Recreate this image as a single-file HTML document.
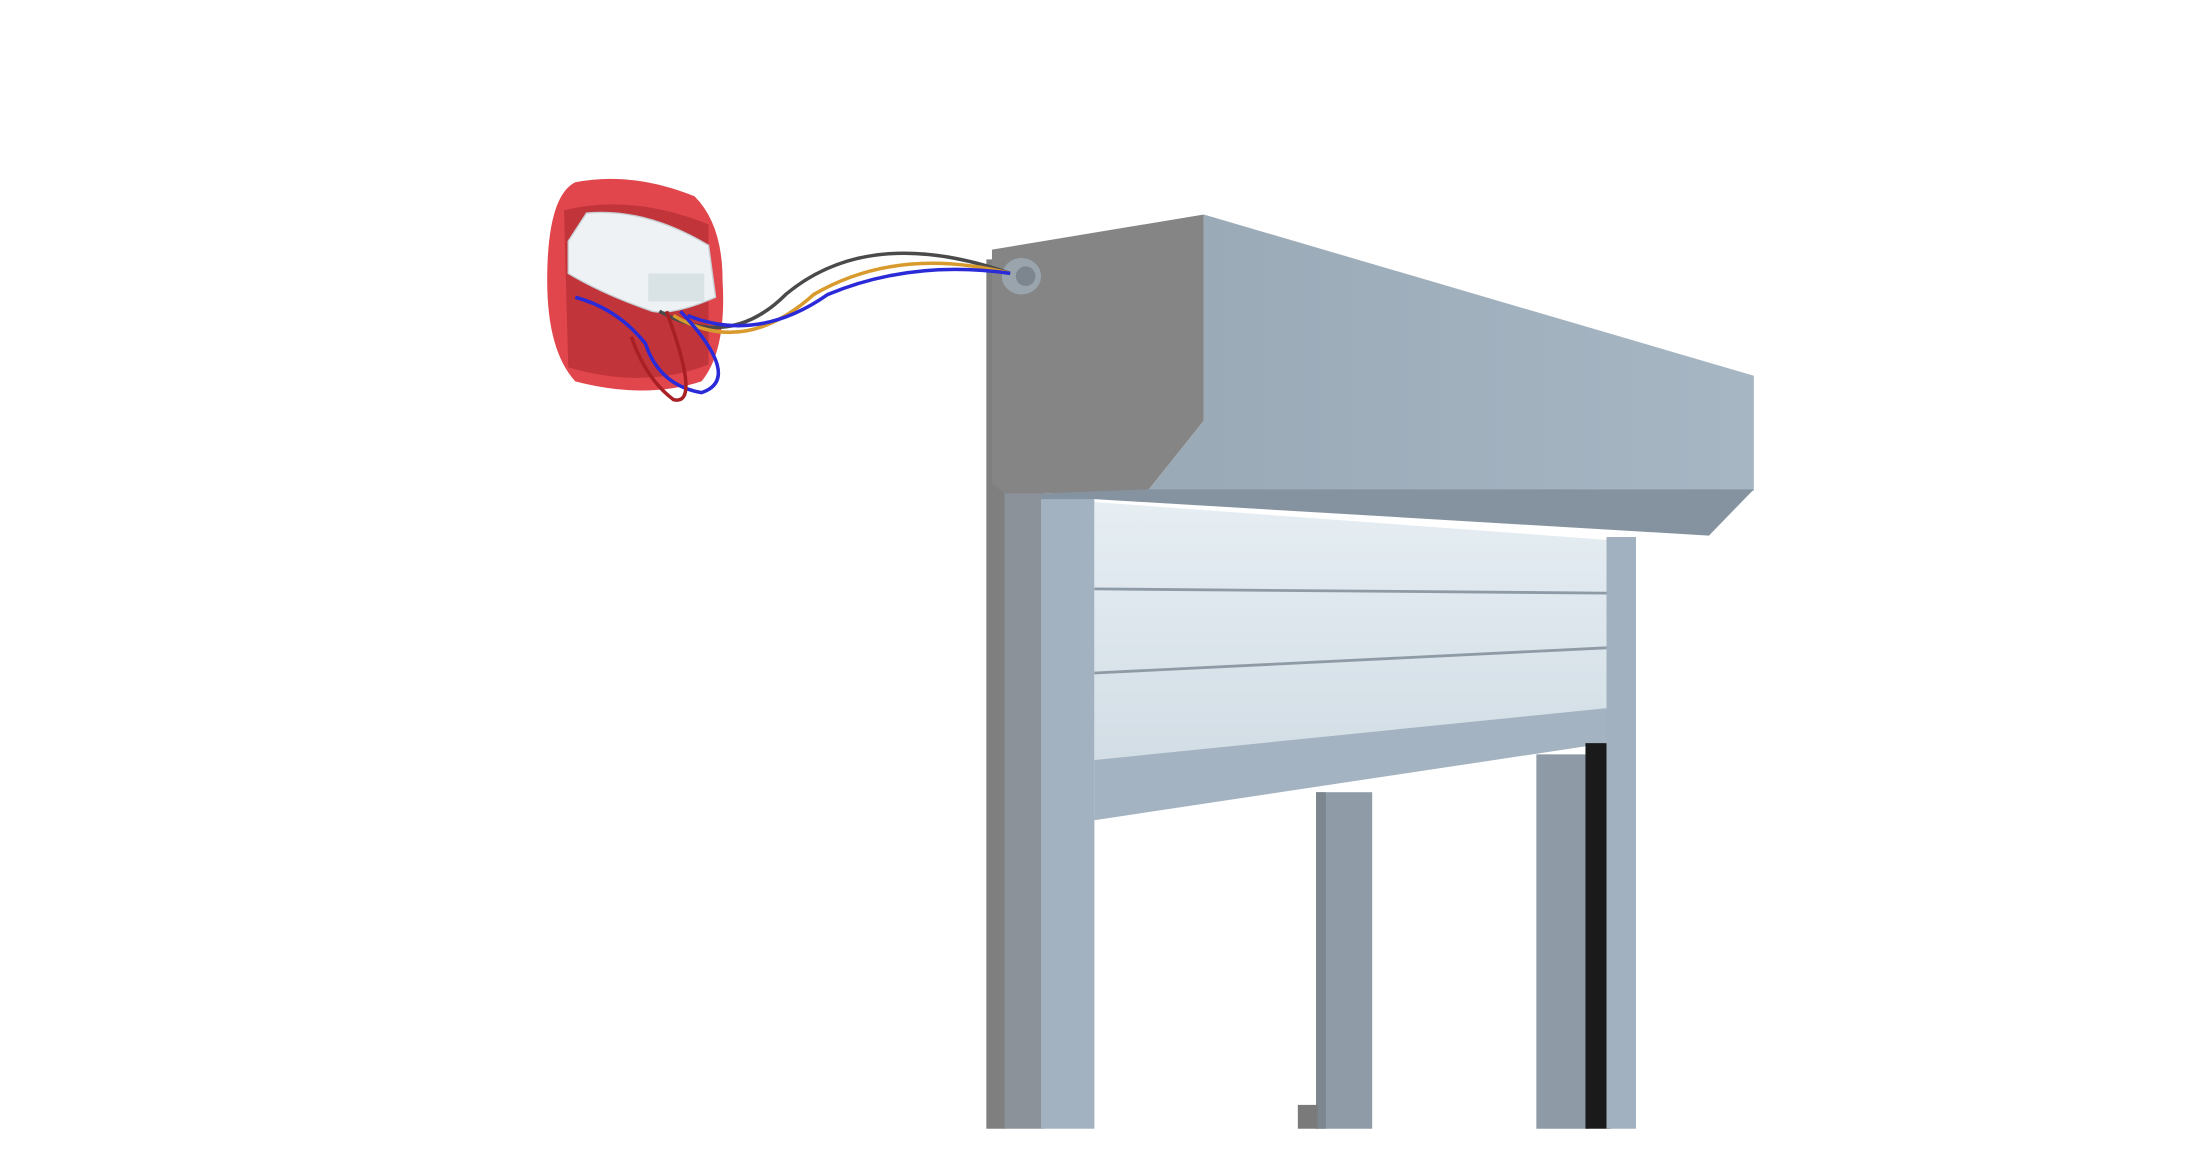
<!DOCTYPE html>
<html><head><meta charset="utf-8"><style>html,body{margin:0;padding:0;background:#fff;width:2200px;height:1175px;overflow:hidden}</style></head>
<body>
<svg width="2200" height="1175" viewBox="0 0 1568 838" preserveAspectRatio="none" xmlns="http://www.w3.org/2000/svg">
<defs>
<linearGradient id="slat" x1="0" y1="0" x2="0" y2="1"><stop offset="0" stop-color="#e6eef3"/><stop offset="1" stop-color="#d2dde5"/></linearGradient>
<linearGradient id="topf" x1="0" y1="0" x2="1" y2="0"><stop offset="0" stop-color="#9aa9b6"/><stop offset="1" stop-color="#a6b6c3"/></linearGradient>
</defs>
<rect width="1568" height="838" fill="#fff"/>
<!-- left post -->
<rect x="703" y="185" width="14" height="620" fill="#7f7f80"/>
<rect x="716" y="350" width="28" height="455" fill="#8c9299"/>
<rect x="742" y="352" width="38" height="453" fill="#a2b2c0"/>
<!-- shutter slats -->
<polygon points="780,358 1145,385 1145,505 780,542" fill="url(#slat)"/>
<line x1="780" y1="420" x2="1145" y2="423" stroke="#8e9ba6" stroke-width="2"/>
<line x1="780" y1="480" x2="1145" y2="462" stroke="#8e9ba6" stroke-width="2"/>
<!-- bottom rail -->
<polygon points="780,542 1145,505 1145,530 780,585" fill="#a3b3c1"/>
<!-- right posts -->
<rect x="1095" y="538" width="38" height="267" fill="#8e9aa5"/>
<rect x="1130" y="530" width="18" height="275" fill="#1a1a1a"/>
<rect x="1145" y="383" width="21" height="422" fill="#a1b1bf"/>
<!-- middle mullion -->
<rect x="938" y="565" width="40" height="240" fill="#8f9ca7"/>
<rect x="938" y="565" width="7" height="240" fill="#7d868e"/>
<rect x="925" y="788" width="14" height="17" fill="#7a7a7a"/>
<!-- box end face -->
<polygon points="707,178 858,153 858,300 818,350 742,352 716,352 707,345" fill="#858585"/>
<!-- box top/front face -->
<polygon points="858,153 1250,268 1250,350 818,350 858,300" fill="url(#topf)"/>
<polygon points="742,352 818,349 1250,349 1218,382 780,356 742,356" fill="#8593a0"/>
<!-- grommet -->
<ellipse cx="728" cy="197" rx="14" ry="13" fill="#9aa4ad"/>
<ellipse cx="731" cy="197" rx="7" ry="7" fill="#7d868e"/>
<!-- red box -->
<path d="M410,130 Q450,122 495,140 Q515,160 515,200 Q518,250 500,272 Q460,285 410,272 Q390,250 390,200 Q390,140 410,130Z" fill="#e2464d"/>
<path d="M402,150 Q450,138 505,160 L505,260 Q460,278 405,262Z" fill="#c1343a"/>
<!-- module -->
<path d="M418,152 Q460,148 505,175 L510,212 Q480,225 465,222 Q430,210 405,195 L405,172Z" fill="#eef2f4" stroke="#c9d0d5"/>
<rect x="462" y="195" width="40" height="20" fill="#d9e3e6"/>
<!-- wires -->
<path d="M470,222 Q520,250 560,210 Q620,160 720,195" fill="none" stroke="#4a4a4a" stroke-width="2.5"/>
<path d="M480,225 Q530,255 580,210 Q640,175 720,195" fill="none" stroke="#d89a2c" stroke-width="2.5"/>
<path d="M490,225 Q540,245 590,210 Q650,185 720,195" fill="none" stroke="#2a2ad8" stroke-width="2.5"/>
<path d="M485,222 Q530,270 500,280 Q470,275 460,245 Q440,220 410,212" fill="none" stroke="#2a2ad8" stroke-width="2.5"/>
<path d="M475,222 Q500,290 480,285 Q460,270 450,240" fill="none" stroke="#a82024" stroke-width="2.5"/>
</svg>
</body></html>
